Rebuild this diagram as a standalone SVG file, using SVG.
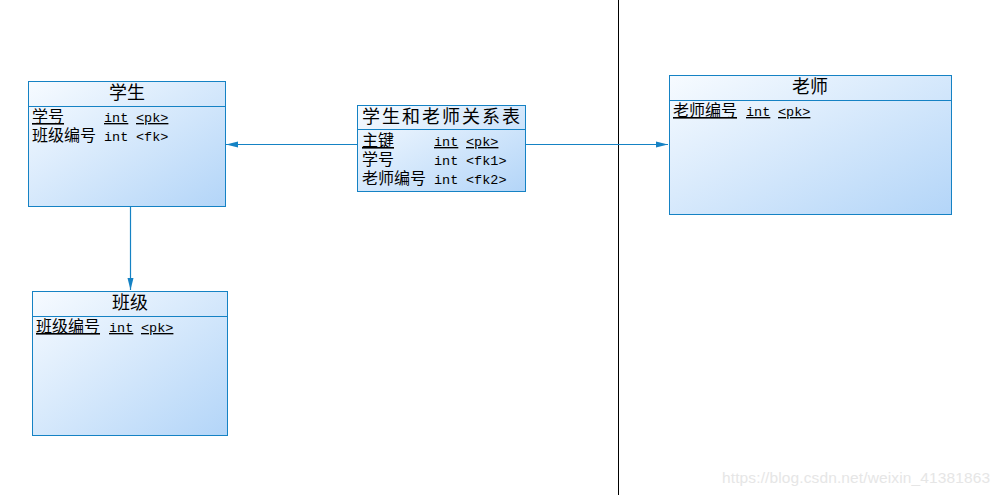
<svg xmlns="http://www.w3.org/2000/svg" width="1002" height="495" viewBox="0 0 1002 495">
<style>
.box{stroke:#1582c4;stroke-width:1;fill:url(#g)}
.sep{stroke:#1582c4;stroke-width:1}
.title{font-family:"Noto Sans CJK SC","Liberation Sans",sans-serif;font-size:18px;fill:#000;text-anchor:middle}
.cn{font-family:"Noto Sans CJK SC","Liberation Sans",sans-serif;font-size:16px;fill:#000}
.mono{font-family:"Liberation Mono","Noto Sans CJK SC",monospace;font-size:13.5px;fill:#000}
.u{text-decoration:underline}
.conn{stroke:#1582c4;stroke-width:1.2;fill:none;marker-end:url(#arr)}
</style>
<defs>
<linearGradient id="g" x1="0" y1="0" x2="1" y2="1">
<stop offset="0" stop-color="#f7fbff"/>
<stop offset="1" stop-color="#b3d5f8"/>
</linearGradient>
<marker id="arr" viewBox="0 0 12 8" refX="12" refY="4" markerWidth="12" markerHeight="8" markerUnits="userSpaceOnUse" orient="auto">
<path d="M0,1 L12,4 L0,7 z" fill="#1582c4"/>
</marker>
</defs>
<rect x="0" y="0" width="1002" height="495" fill="#fff"/>
<line x1="618.5" y1="0" x2="618.5" y2="495" stroke="#000" stroke-width="1"/>
<g id="connectors">
<line class="conn" x1="357" y1="144.5" x2="226" y2="144.5"/>
<line class="conn" x1="525" y1="144.5" x2="668" y2="144.5"/>
<line class="conn" x1="130.5" y1="206" x2="130.5" y2="290"/>
</g>
<g id="student">
<rect class="box" x="28.5" y="81.5" width="197" height="125"/>
<line class="sep" x1="28.5" y1="106.5" x2="225.5" y2="106.5"/>
<text class="title" x="127" y="99">学生</text>
<text class="cn u" x="32" y="122">学号</text>
<text class="mono u" x="104" y="122">int</text>
<text class="mono u" x="136" y="122">&lt;pk&gt;</text>
<text class="cn" x="32" y="141">班级编号</text>
<text class="mono" x="104" y="141">int</text>
<text class="mono" x="136" y="141">&lt;fk&gt;</text>
</g>
<g id="relation">
<rect class="box" x="357.5" y="105.5" width="168" height="86"/>
<line class="sep" x1="357.5" y1="129.5" x2="525.5" y2="129.5"/>
<text class="title" x="442" y="123" style="letter-spacing:2px">学生和老师关系表</text>
<text class="cn u" x="362" y="146">主键</text>
<text class="mono u" x="434" y="146">int</text>
<text class="mono u" x="466" y="146">&lt;pk&gt;</text>
<text class="cn" x="362" y="165">学号</text>
<text class="mono" x="434" y="165">int</text>
<text class="mono" x="466" y="165">&lt;fk1&gt;</text>
<text class="cn" x="362" y="184">老师编号</text>
<text class="mono" x="434" y="184">int</text>
<text class="mono" x="466" y="184">&lt;fk2&gt;</text>
</g>
<g id="teacher">
<rect class="box" x="669.5" y="75.5" width="282" height="139"/>
<line class="sep" x1="669.5" y1="100.5" x2="951.5" y2="100.5"/>
<text class="title" x="810" y="93">老师</text>
<text class="cn u" x="673" y="116">老师编号</text>
<text class="mono u" x="746" y="116">int</text>
<text class="mono u" x="778" y="116">&lt;pk&gt;</text>
</g>
<g id="class">
<rect class="box" x="32.5" y="291.5" width="195" height="144"/>
<line class="sep" x1="32.5" y1="316.5" x2="227.5" y2="316.5"/>
<text class="title" x="130" y="309">班级</text>
<text class="cn u" x="36" y="332">班级编号</text>
<text class="mono u" x="109" y="332">int</text>
<text class="mono u" x="141" y="332">&lt;pk&gt;</text>
</g>
<text x="722" y="483" font-family="Liberation Sans, sans-serif" font-size="15.5" fill="#e6e6e6" textLength="268">https://blog.csdn.net/weixin_41381863</text>
</svg>
